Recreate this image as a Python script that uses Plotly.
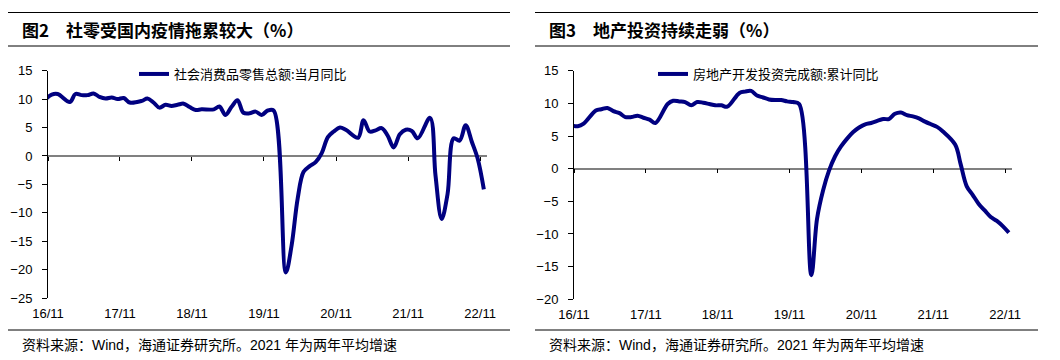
import plotly.graph_objects as go

# ---------------- data ----------------
months = [
    "2016-10", "2016-11", "2016-12",
    "2017-02", "2017-03", "2017-04", "2017-05", "2017-06", "2017-07", "2017-08", "2017-09", "2017-10", "2017-11", "2017-12",
    "2018-02", "2018-03", "2018-04", "2018-05", "2018-06", "2018-07", "2018-08", "2018-09", "2018-10", "2018-11", "2018-12",
    "2019-02", "2019-03", "2019-04", "2019-05", "2019-06", "2019-07", "2019-08", "2019-09", "2019-10", "2019-11", "2019-12",
    "2020-02", "2020-03", "2020-04", "2020-05", "2020-06", "2020-07", "2020-08", "2020-09", "2020-10", "2020-11", "2020-12",
    "2021-02", "2021-03", "2021-04", "2021-05", "2021-06", "2021-07", "2021-08", "2021-09", "2021-10", "2021-11", "2021-12",
    "2022-02", "2022-03", "2022-04", "2022-05", "2022-06", "2022-07", "2022-08", "2022-09", "2022-10", "2022-11",
]

retail_yoy = [
    10.0, 10.8, 10.9,
    9.5, 10.9, 10.7, 10.7, 11.0, 10.4, 10.1, 10.3, 10.0, 10.2, 9.4,
    9.7, 10.1, 9.4, 8.5, 9.0, 8.8, 9.0, 9.2, 8.6, 8.1, 8.2,
    8.2, 8.7, 7.2, 8.6, 9.8, 7.6, 7.5, 7.8, 7.2, 8.0, 8.0,
    -20.5, -15.8, -7.5, -2.8, -1.8, -1.1, 0.5, 3.3, 4.3, 5.0, 4.6,
    3.2, 6.3, 4.3, 4.5, 4.9, 3.6, 1.5, 3.8, 4.6, 4.4, 3.1,
    6.7, -3.5, -11.1, -6.7, 3.1, 2.7, 5.4, 2.5, -0.5, -5.9,
]

realestate_ytd = [
    6.6, 6.5, 6.9,
    8.9, 9.1, 9.3, 8.8, 8.5, 7.9, 7.9, 8.1, 7.8, 7.5, 7.0,
    9.9, 10.4, 10.3, 10.2, 9.7, 10.2, 10.1, 9.9, 9.7, 9.7, 9.5,
    11.6, 11.8, 11.9, 11.2, 10.9, 10.6, 10.5, 10.5, 10.3, 10.2, 9.9,
    -16.3, -7.7, -3.3, -0.3, 1.9, 3.4, 4.6, 5.6, 6.3, 6.8, 7.0,
    7.6, 7.6, 8.4, 8.6, 8.2, 8.0, 7.7, 7.2, 6.8, 6.4, 5.7,
    3.7, 0.7, -2.7, -4.0, -5.4, -6.4, -7.4, -8.0, -8.8, -9.8,
]

name_left = "社会消费品零售总额:当月同比"
name_right = "房地产开发投资完成额:累计同比"
title_left = "图2\u3000社零受国内疫情拖累较大（%）"
title_right = "图3\u3000地产投资持续走弱（%）"
source_text = "资料来源：Wind，海通证券研究所。2021 年为两年平均增速"
left_yrange = [-25, 15]
right_yrange = [-20, 15]
x_range = ["2016-11-01", "2022-12-06"]

# ---------------- layout helpers ----------------
W, H = 1060, 360
NAVY = "#000080"
CJK = "Noto Sans CJK SC"
LAT = "Liberation Sans, Arial, Noto Sans CJK SC"


def px(x):
    return x / W


def py(y):
    return 1 - y / H


dates = [m + "-20" for m in months]

fig = go.Figure()
fig.add_trace(go.Scatter(
    x=dates, y=retail_yoy, mode="lines", name=name_left,
    line=dict(color=NAVY, width=4, shape="spline", smoothing=1),
    xaxis="x", yaxis="y", legend="legend",
))
fig.add_trace(go.Scatter(
    x=dates, y=realestate_ytd, mode="lines", name=name_right,
    line=dict(color=NAVY, width=4, shape="spline", smoothing=1),
    xaxis="x2", yaxis="y2", legend="legend2",
))

left_dom_x = [px(48), px(487)]
right_dom_x = [px(574), px(1012)]
left_dom_y = [py(298), py(70.7)]
right_dom_y = [py(299.3), py(70.7)]


def zero_pos(dom, rng):
    return dom[0] + (0 - rng[0]) / (rng[1] - rng[0]) * (dom[1] - dom[0])


base_x = dict(
    type="date", range=x_range, tick0="2016-11-01", dtick="M12", tickformat="%y/%m",
    showgrid=False, zeroline=False, fixedrange=True,
)
label_x = dict(
    base_x, showline=False, ticks="outside", ticklen=3, tickcolor="rgba(0,0,0,0)",
    tickfont=dict(family=LAT, size=13, color="black"),
)
tick_x = dict(
    base_x, showline=True, linecolor="#808080", linewidth=1.5, ticks="outside",
    ticklen=4, tickwidth=1, tickcolor="black", showticklabels=False,
    anchor="free", layer="below traces",
)
base_y = dict(
    dtick=5, showgrid=False, zeroline=False, showline=True, linecolor="black",
    linewidth=1, ticks="outside", ticklen=5, tickcolor="black", fixedrange=True,
    ticklabelstandoff=7,
    tickfont=dict(family=LAT, size=13, color="black"),
)

fig.update_layout(
    width=W, height=H, margin=dict(l=0, r=0, t=0, b=0, autoexpand=False),
    paper_bgcolor="white", plot_bgcolor="white", showlegend=True,
    xaxis=dict(label_x, domain=left_dom_x, anchor="y"),
    yaxis=dict(base_y, domain=left_dom_y, range=left_yrange, tick0=0, anchor="x"),
    xaxis2=dict(label_x, domain=right_dom_x, anchor="y2"),
    yaxis2=dict(base_y, domain=right_dom_y, range=right_yrange, tick0=0, anchor="x2"),
    xaxis3=dict(tick_x, domain=left_dom_x, overlaying="x",
                position=zero_pos(left_dom_y, left_yrange)),
    xaxis4=dict(tick_x, domain=right_dom_x, overlaying="x2",
                position=zero_pos(right_dom_y, right_yrange)),
    legend=dict(x=px(134), y=py(74), xanchor="left", yanchor="middle",
                bgcolor="rgba(0,0,0,0)", borderwidth=0,
                font=dict(family=CJK, size=13, color="black")),
    legend2=dict(x=px(653), y=py(74), xanchor="left", yanchor="middle",
                 bgcolor="rgba(0,0,0,0)", borderwidth=0,
                 font=dict(family=CJK, size=13, color="black")),
)

# invisible helper traces so the tick-only overlay axes render
fig.add_trace(go.Scatter(x=[x_range[0]], y=[0], mode="markers", marker=dict(opacity=0),
                         xaxis="x3", yaxis="y", showlegend=False, hoverinfo="skip"))
fig.add_trace(go.Scatter(x=[x_range[0]], y=[0], mode="markers", marker=dict(opacity=0),
                         xaxis="x4", yaxis="y2", showlegend=False, hoverinfo="skip"))

# titles, rules and source notes
for x0, x1, title in [(8, 510, title_left), (535, 1038, title_right)]:
    for yy in (12.5, 46, 330):
        fig.add_shape(type="line", xref="paper", yref="paper",
                      x0=px(x0), x1=px(x1), y0=py(yy), y1=py(yy),
                      line=dict(color="black", width=1))
    fig.add_annotation(text="<b>" + title + "</b>", xref="paper", yref="paper",
                       x=px(x0 + 12), y=py(29), xanchor="left", yanchor="middle",
                       showarrow=False, font=dict(family=CJK, size=17, color="black"))
    fig.add_annotation(text=source_text, xref="paper", yref="paper",
                       x=px(x0 + 12), y=py(345), xanchor="left", yanchor="middle",
                       showarrow=False, font=dict(family=LAT, size=14, color="black"))

fig.write_html(
    "out.html",
    config={"displayModeBar": False},
    post_script="document.body.style.margin='0';document.body.style.overflow='hidden';",
)
